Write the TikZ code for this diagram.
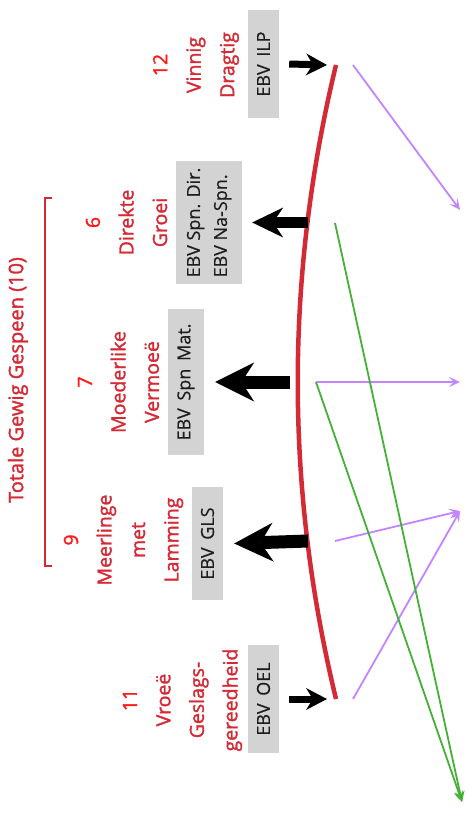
\documentclass[tikz,border=0pt]{standalone}
\usepackage{fontspec}
\setmainfont{Open Sans}
\newfontfamily\traitfont{Open Sans}[FakeBold=1.6]
\newfontfamily\ebvfont{Open Sans}[FakeBold=0.5]
\usepackage{xcolor}
\definecolor{boxgrey}{HTML}{D3D3D3}
\definecolor{textdark}{HTML}{1E1E1E}
\definecolor{traitred}{HTML}{D42A35}
\definecolor{numred}{HTML}{FF1A1A}
\definecolor{linkviolet}{HTML}{C384FF}
\definecolor{linkgreen}{HTML}{44B035}
\usetikzlibrary{arrows.meta,calc}
\newcommand{\traitno}[1]{{\color{numred}#1}}

\begin{document}
\begin{tikzpicture}[x=1pt, y=-1pt,
      ebvbox/.style={rectangle, fill=boxgrey, text=textdark, rotate=90, font=\ebvfont\fontsize{18}{27}\selectfont, align=left, inner sep=0pt},
      trait/.style={rotate=90, text=traitred, font=\traitfont\fontsize{19.5}{33.5}\selectfont, align=center, inner sep=0pt},
      arrsmall/.style={-{Stealth[length=21pt,width=22pt,line width=0pt]}, line width=7pt},
      arrmid/.style={-{Stealth[length=31pt,width=30pt,line width=0pt]}, line width=11pt},
      arrbig/.style={-{Stealth[length=39pt,width=39pt,line width=0pt]}, line width=13pt},
      vlink/.style={-{Stealth[length=11pt,width=10pt,inset=5pt]}, linkviolet, line width=1.8pt},
      glink/.style={-{Stealth[length=11pt,width=10pt,inset=5pt]}, linkgreen, line width=1.8pt}
    ]
      \useasboundingbox (0,0) rectangle (468,814);

      % EBV boxes
      \node[ebvbox, minimum width=108pt, minimum height=31pt] (ilp) at (263.5,64) {EBV\ \,ILP};
      \node[ebvbox, minimum width=123pt, minimum height=66pt] (dir) at (209,222.5) {EBV Spn. Dir.\\EBV Na-Spn.};
      \node[ebvbox, minimum width=146pt, minimum height=36pt] (mat) at (186,382) {EBV\ \,Spn\ \,Mat.};
      \node[ebvbox, minimum width=113pt, minimum height=31pt] (gls) at (207.5,543.5) {EBV\ \,GLS};
      \node[ebvbox, minimum width=108pt, minimum height=31pt] (oel) at (263.5,699) {EBV\ \,OEL};

      % traits
      \node[trait] (vinnig) at (196,65) {\traitno{12}\\Vinnig\\Dragtig};
      \node[trait] (groei) at (126.5,222.5) {\traitno{6}\\Direkte\\Groei};
      \node[trait] (moeder) at (118.5,382) {\traitno{7}\\Moederlike\\Vermoeë};
      \node[trait] (meer) at (123.5,540) {\traitno{9}\\Meerlinge\\met\\Lamming};
      \node[trait] (vroee) at (182.5,700) {\traitno{11}\\Vroeë\\Geslags-\\gereedheid};
      \node[trait, font=\traitfont\fontsize{20}{24}\selectfont] (total) at (18,380) {Totale Gewig Gespeen (10)};
      \draw[traitred, line width=2pt] (52,198) -- (45,198) -- (45,566) -- (52,566);

      % curve and arrows
      \coordinate (ctop) at (336,65);
      \coordinate (cbot) at (336,699);
      \draw[traitred, line width=4.5pt] (ctop) .. controls (285,276) and (285,488) .. (cbot);
      \coordinate (t6) at (308,222.5);
      \coordinate (t7) at (290,382);
      \coordinate (t9) at (308,541);
      \draw[arrsmall] ([xshift=10pt]ilp.south) -- ([xshift=-9pt]ctop);
      \draw[arrsmall] ([xshift=10pt]oel.south) -- ([xshift=-9pt]cbot);
      \draw[arrmid] (t6) -- ([xshift=10pt]dir.south);
      \draw[arrbig] (t7) -- ([xshift=11pt]mat.south);
      \draw[arrbig] (t9) -- ([xshift=11pt]gls.south);

      % links
      \coordinate (s12) at (353,65);
      \coordinate (s6) at (335,223);
      \coordinate (s7) at (316,382);
      \coordinate (s9) at (335,541);
      \coordinate (s11) at (353,699);
      \coordinate (e1) at (460,210);
      \coordinate (e2) at (460,382);
      \coordinate (e3) at (460,511);
      \coordinate (e4) at (462,802);
      \draw[vlink] (s12) -- (e1);
      \draw[vlink] (s7) -- (e2);
      \draw[vlink] (s9) -- (e3);
      \draw[vlink] (s11) -- (e3);
      \draw[glink] (s6) -- (e4);
      \draw[glink] (s7) -- (e4);
    \end{tikzpicture}
\end{document}
